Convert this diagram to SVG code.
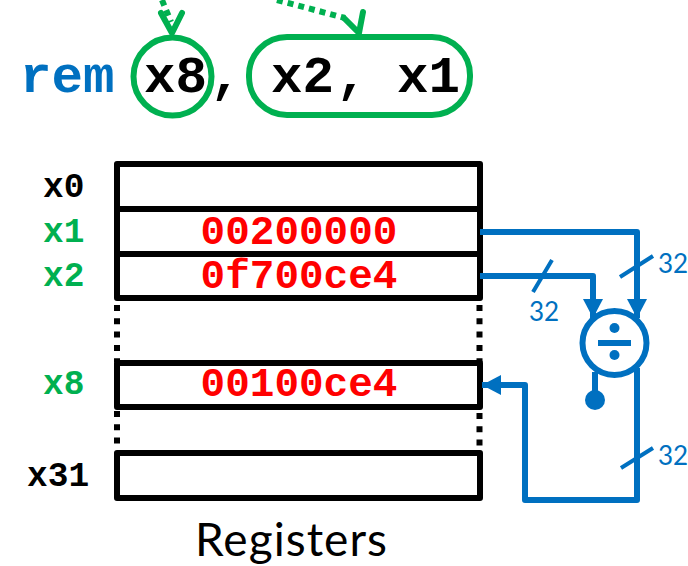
<svg xmlns="http://www.w3.org/2000/svg" width="688" height="566" viewBox="0 0 688 566">
<style>
.m{font-family:"Liberation Mono",monospace;font-weight:bold}
.i{font-size:52.5px}
.l{font-size:34.500px}
.v{font-size:41px;fill:#ff0000;text-anchor:middle}
.g{fill:#00b050}
.k{fill:#000}
.n{font-family:Lato,"Open Sans",sans-serif;font-size:26px;fill:#0070c0}
.reg{fill:#fff;stroke:#000;stroke-width:6;stroke-linejoin:round}
.dot{fill:none;stroke:#000;stroke-width:6;stroke-dasharray:6 7.3}
.w{fill:none;stroke:#0070c0;stroke-width:6;stroke-linejoin:round}
.t{fill:none;stroke:#0070c0;stroke-width:4}
.gr{fill:none;stroke:#00b050;stroke-width:6}
</style>
<defs>
<marker id="a" markerUnits="userSpaceOnUse" markerWidth="20" markerHeight="20" refX="19" refY="10" orient="auto"><path d="M0 0L19 10L0 20Z" fill="#0070c0"/></marker>
</defs>
<g id="instruction">
<text class="m i" x="20" y="92" fill="#0070c0">rem</text>
<text class="m i k" x="144" y="92">x8</text>
<text class="m i k" x="210" y="92">,</text>
<text class="m i k" x="271" y="92">x2</text>
<text class="m i k" x="336" y="92">,</text>
<text class="m i k" x="397" y="92">x1</text>
</g>
<g id="operand-x8"><circle cx="172.500" cy="76.500" r="39" class="gr"/></g>
<g id="operand-x2-x1"><rect x="249" y="37" width="221" height="78" rx="38" class="gr"/></g>
<g id="registers">
<g id="reg-x0"><rect class="reg" x="117" y="164" width="363" height="45"/><text class="m l k" x="43" y="197">x0</text></g>
<g id="reg-x1"><rect class="reg" x="117" y="209" width="363" height="45"/><text class="m l g" x="43" y="242">x1</text><text class="m v" x="299" y="244">00200000</text></g>
<g id="reg-x2"><rect class="reg" x="117" y="254" width="363" height="44"/><text class="m l g" x="43" y="286">x2</text><text class="m v" x="299" y="288">0f700ce4</text></g>
<g id="reg-x8"><rect class="reg" x="117" y="363" width="363" height="44"/><text class="m l g" x="43" y="394">x8</text><text class="m v" x="299" y="396">00100ce4</text></g>
<g id="reg-x31"><rect class="reg" x="117" y="453" width="363" height="45"/><text class="m l k" x="27" y="486">x31</text></g>
<path class="dot" d="M117 305V362M479.500 305V362M117 411V449M479.500 413V449"/>
<text id="registers-label" x="195" y="556" textLength="192" font-family="Lato,Open Sans,sans-serif" font-size="46" fill="#000">Registers</text>
</g>
<g id="divider">
<circle cx="614.500" cy="343" r="32" fill="#fff" stroke="#0070c0" stroke-width="6"/>
<rect x="598" y="340" width="33" height="6" fill="#0070c0"/>
<circle cx="614.500" cy="328" r="5" fill="#0070c0"/><circle cx="614.500" cy="355" r="5" fill="#0070c0"/>
</g>
<g id="connectors">
<path class="w" d="M480 232H637V318" marker-end="url(#a)"/>
<path class="w" d="M480 276H593V318" marker-end="url(#a)"/>
<path class="w" d="M595 372V400"/>
<circle cx="595" cy="400" r="10" fill="#0070c0"/>
<path class="w" d="M637 368V500H525V385H482" marker-end="url(#a)"/>
<path class="t" d="M533 292L552 260M620 277L653 256M621 468L653 448"/>
<path class="gr" d="M162 0L171 22" stroke-dasharray="6 5"/>
<path class="gr" d="M277 0L345 18" stroke-dasharray="6 5"/>
<path class="gr" stroke-linecap="round" stroke-linejoin="round" d="M161 13L172 33L182 13M344 18L359 33L363 12"/>
<text class="n" x="658" y="273">32</text>
<text class="n" x="529" y="321">32</text>
<text class="n" x="658" y="465">32</text>
</g>
</svg>
